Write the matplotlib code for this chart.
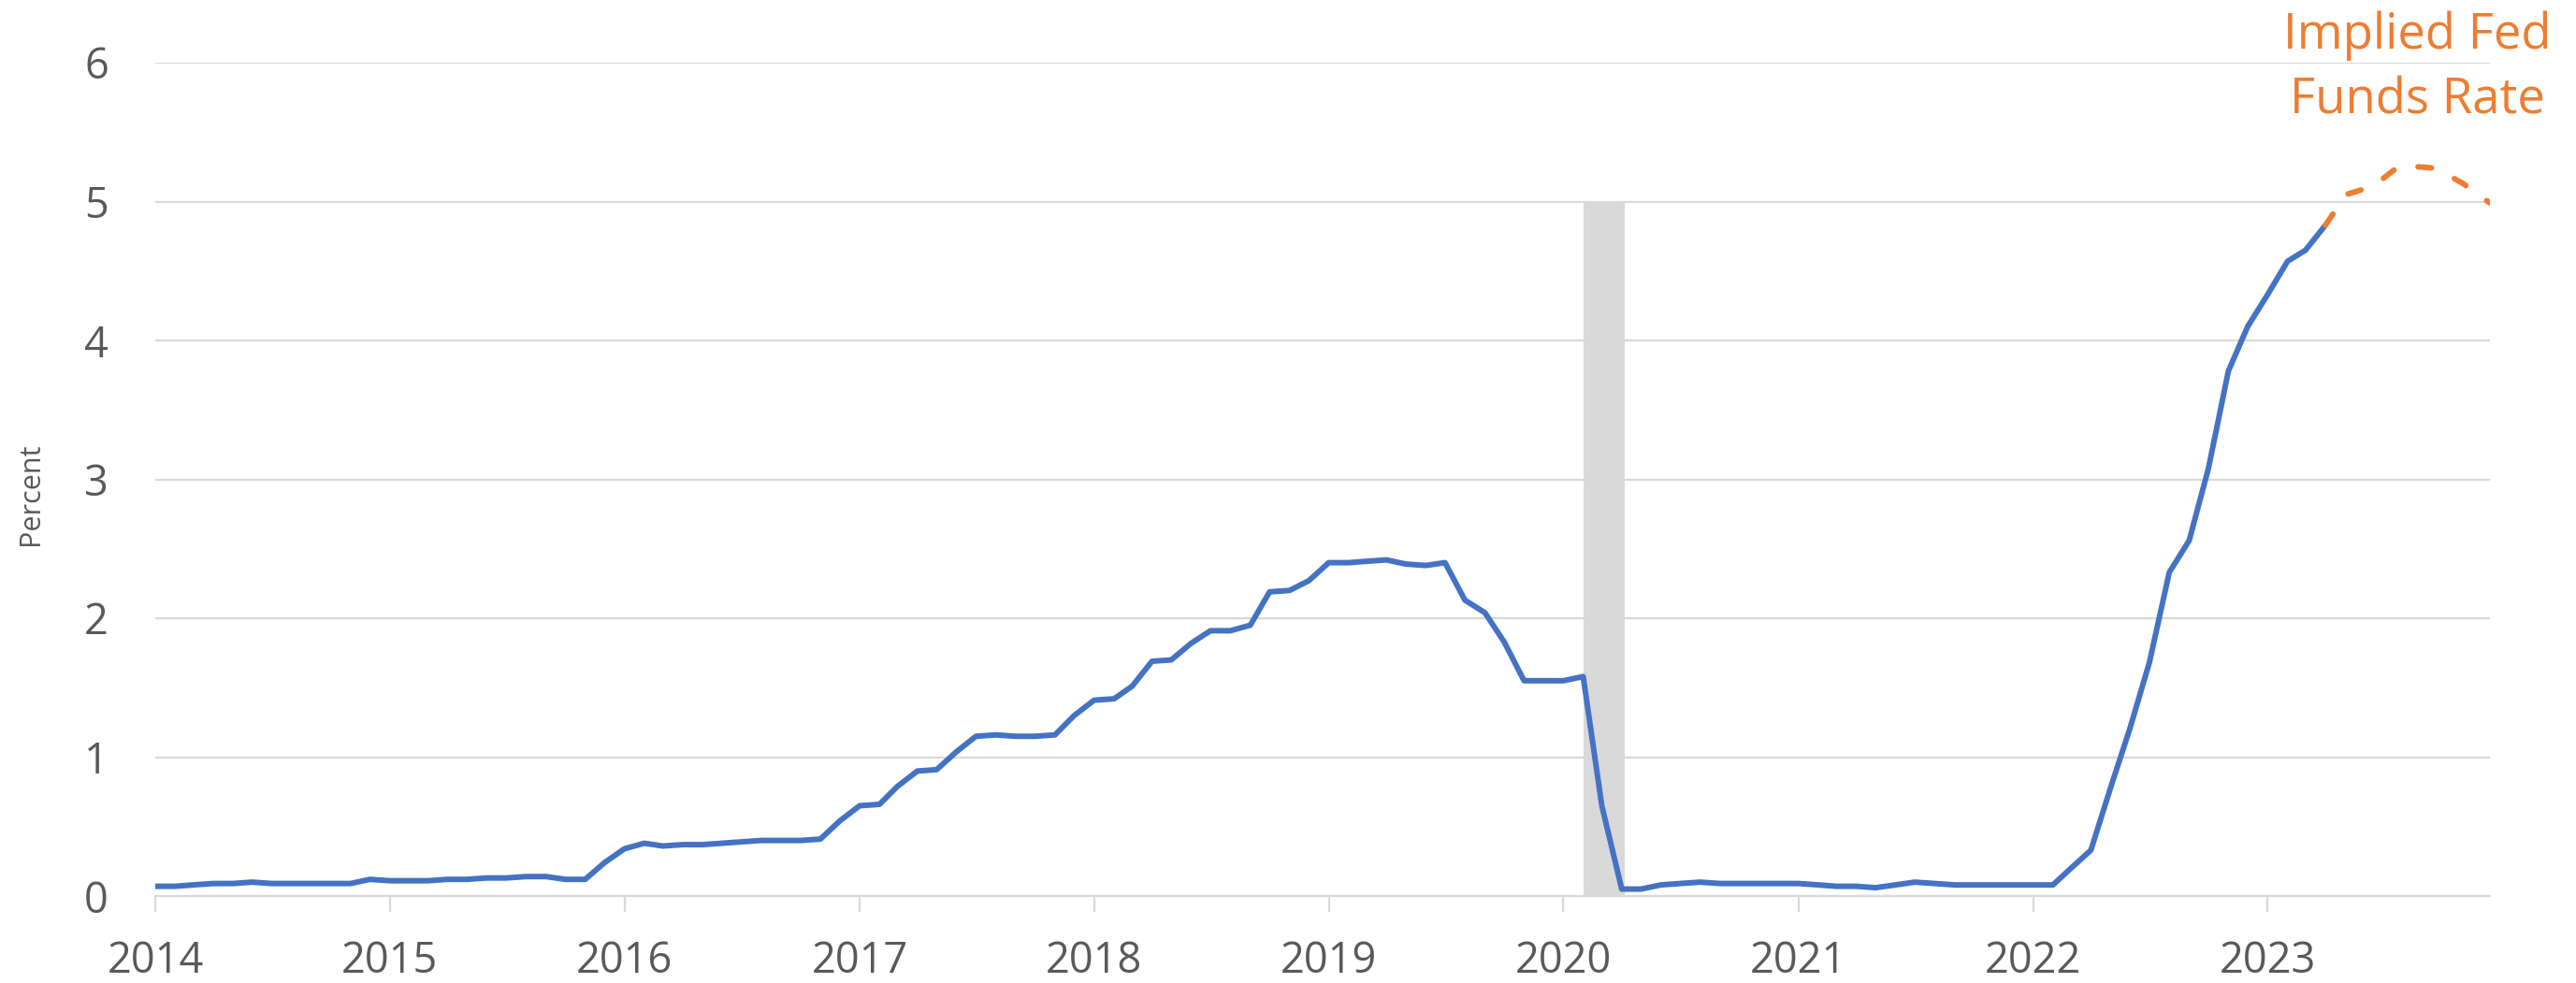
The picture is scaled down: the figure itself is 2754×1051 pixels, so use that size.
import matplotlib
matplotlib.use("Agg")
import matplotlib.pyplot as plt
import matplotlib.dates as mdates
import pandas as pd

# ---- data ----
effr_start = "2014-01-01"
effr_values = [
    0.07, 0.07, 0.08, 0.09, 0.09, 0.10, 0.09, 0.09, 0.09, 0.09, 0.09, 0.12,  # 2014
    0.11, 0.11, 0.11, 0.12, 0.12, 0.13, 0.13, 0.14, 0.14, 0.12, 0.12, 0.24,  # 2015
    0.34, 0.38, 0.36, 0.37, 0.37, 0.38, 0.39, 0.40, 0.40, 0.40, 0.41, 0.54,  # 2016
    0.65, 0.66, 0.79, 0.90, 0.91, 1.04, 1.15, 1.16, 1.15, 1.15, 1.16, 1.30,  # 2017
    1.41, 1.42, 1.51, 1.69, 1.70, 1.82, 1.91, 1.91, 1.95, 2.19, 2.20, 2.27,  # 2018
    2.40, 2.40, 2.41, 2.42, 2.39, 2.38, 2.40, 2.13, 2.04, 1.83, 1.55, 1.55,  # 2019
    1.55, 1.58, 0.65, 0.05, 0.05, 0.08, 0.09, 0.10, 0.09, 0.09, 0.09, 0.09,  # 2020
    0.09, 0.08, 0.07, 0.07, 0.06, 0.08, 0.10, 0.09, 0.08, 0.08, 0.08, 0.08,  # 2021
    0.08, 0.08, 0.20, 0.33, 0.77, 1.21, 1.68, 2.33, 2.56, 3.08, 3.78, 4.10,  # 2022
    4.33, 4.57, 4.65, 4.83,                                                  # 2023
]
implied_dates = ["2023-04-01", "2023-05-03", "2023-06-14", "2023-07-26",
                 "2023-09-20", "2023-11-01", "2023-12-13"]
implied_values = [4.83, 5.05, 5.11, 5.26, 5.24, 5.13, 4.99]
recession_start = "2020-02-02"
recession_end = "2020-04-05"
recession_top = 5
year_ticks = list(range(2014, 2024))
y_ticks = [0, 1, 2, 3, 4, 5, 6]
annotation_lines = ["Implied Fed", "Funds Rate"]
y_label = "Percent"

# ---- figure ----
W, H = 2754, 1051
fig = plt.figure(figsize=(W / 100, H / 100), dpi=100)
L, R, T, B = 166, 2662, 67, 958
ax = fig.add_axes([L / W, 1 - B / H, (R - L) / W, (B - T) / H])

FONT = "Open Sans"
GRID = "#D9D9D9"
TXT = "#595959"
BLUE = "#4472C4"
ORANGE = "#ED7D31"

effr_dates = pd.date_range(effr_start, periods=len(effr_values), freq="MS")
imp_dates = pd.to_datetime(implied_dates)

ax.axvspan(pd.Timestamp(recession_start), pd.Timestamp(recession_end),
           ymin=0, ymax=recession_top / max(y_ticks), color=GRID, lw=0, zorder=1)

ax.plot(imp_dates, implied_values, color=ORANGE, lw=4.3,
        linestyle=(0, (2.4, 4.6)), dash_capstyle="round",
        solid_joinstyle="round", zorder=3)
ax.plot(effr_dates, effr_values, color=BLUE, lw=4.3,
        solid_joinstyle="round", solid_capstyle="butt", zorder=2.5)

ax.set_xlim(pd.Timestamp("2014-01-01"), pd.Timestamp("2023-12-13"))
ax.set_ylim(0, 6)

ax.set_yticks(y_ticks)
ax.set_yticklabels([str(v) for v in y_ticks])
ax.set_xticks([pd.Timestamp(f"{y}-01-01") for y in year_ticks])
ax.set_xticklabels([str(y) for y in year_ticks])

ax.grid(axis="y", color=GRID, lw=1.6, zorder=0)
ax.set_axisbelow(True)
for s in ["top", "right", "left"]:
    ax.spines[s].set_visible(False)
ax.spines["bottom"].set_color(GRID)
ax.spines["bottom"].set_linewidth(1.6)
ax.spines["bottom"].set_zorder(0.5)

ax.tick_params(axis="y", length=0, pad=36, labelsize=32.5, labelcolor=TXT)
ax.tick_params(axis="x", length=12, width=1.6, color=GRID, pad=22,
               labelsize=32.5, labelcolor=TXT, direction="out")
for lab in ax.get_xticklabels() + ax.get_yticklabels():
    lab.set_fontfamily(FONT)

fig.text(33 / W, 1 - 528 / H, y_label, rotation=90, ha="center", va="center",
         fontsize=22, color=TXT, family=FONT)

fig.text(2584 / W, 1 - 52 / H, annotation_lines[0], ha="center", va="baseline",
         fontsize=38, color=ORANGE, family=FONT)
fig.text(2584 / W, 1 - 122 / H, annotation_lines[1], ha="center", va="baseline",
         fontsize=38, color=ORANGE, family=FONT)

fig.savefig("out.png", dpi=100)
